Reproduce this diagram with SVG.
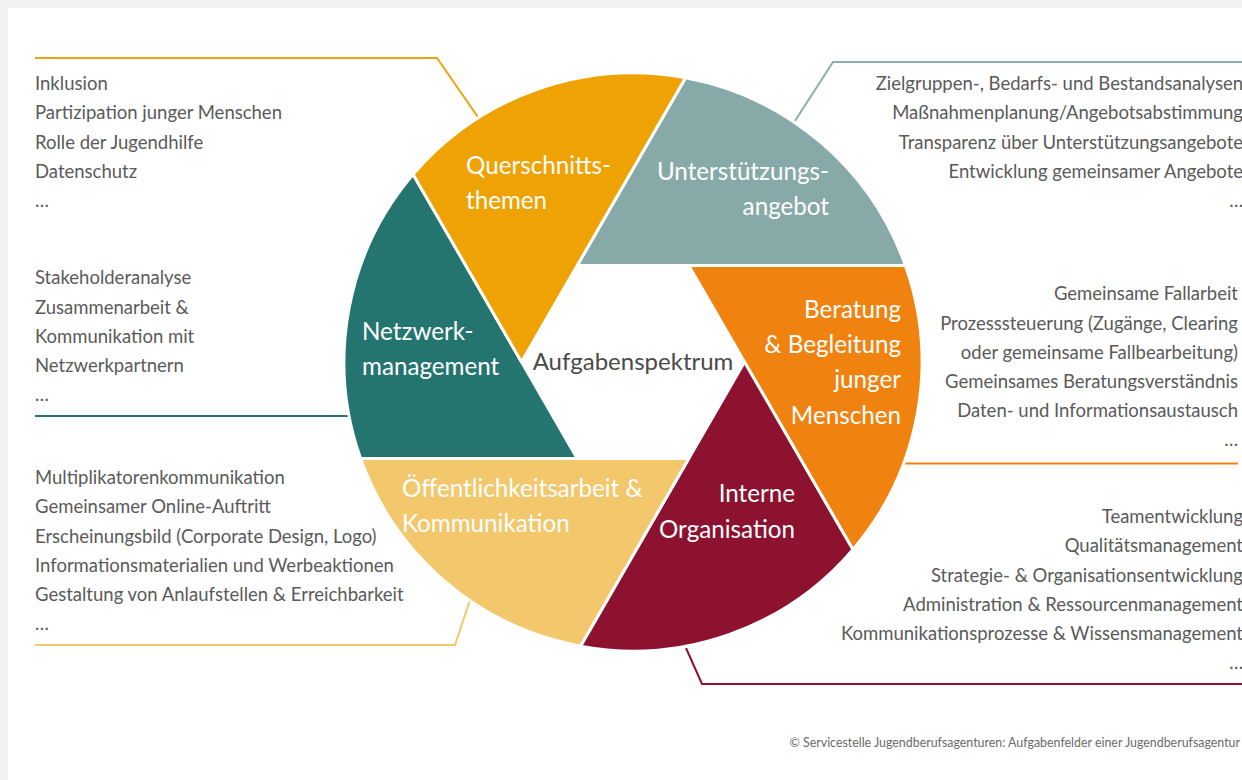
<svg xmlns="http://www.w3.org/2000/svg" width="1242" height="780" viewBox="0 0 1242 780">
<style>
.bg{fill:#f2f2f2}
.card{fill:#ffffff}
.blade{stroke:#ffffff;stroke-width:3;stroke-linejoin:round}
.conn{fill:none;stroke-width:2}
.item{font-family:Lato,"Liberation Sans",sans-serif;font-size:18.5px;fill:#5a5a5a}
.r{text-anchor:end}
.lbl{font-family:Lato,"Liberation Sans",sans-serif;font-size:24.2px;fill:#ffffff}
.center{font-family:Lato,"Liberation Sans",sans-serif;font-size:24px;fill:#4a4a4a;text-anchor:middle}
.copy{font-family:Lato,"Liberation Sans",sans-serif;font-size:12.4px;fill:#6a6a6a;text-anchor:end}
</style>
<rect class="bg" x="0" y="0" width="1242" height="780"/>
<rect class="card" x="8" y="8" width="1234" height="772"/>

<g id="connectors">
  <polyline class="conn" stroke="#EBA40E" points="35,58 437,58 480,120"/>
  <polyline class="conn" stroke="#8AAEAB" points="1242,62 833,62 793,124"/>
  <polyline class="conn" stroke="#247570" points="35,416 352,416"/>
  <polyline class="conn" stroke="#F0820F" points="900,463.5 1238,463.5"/>
  <polyline class="conn" stroke="#F3C76B" points="35,645 455,645 470,600"/>
  <polyline class="conn" stroke="#8C1230" points="686,648 702,684 1242,684"/>
</g>

<g id="node-unterstuetzung">
  <path class="blade" fill="#87AAA8" d="M577.25,265.44 L905.39,265.44 A289,289 0 0 0 685.56,77.83 Z"/>
  <text class="lbl r" x="829" y="180">Unterstützungs-</text>
  <text class="lbl r" x="829" y="215">angebot</text>
</g>
<g id="node-beratung">
  <path class="blade" fill="#F0820F" d="M688.75,265.44 L852.82,549.61 A289,289 0 0 0 905.39,265.44 Z"/>
  <text class="lbl r" x="901" y="318">Beratung</text>
  <text class="lbl r" x="901" y="353">&amp; Begleitung</text>
  <text class="lbl r" x="901" y="388">junger</text>
  <text class="lbl r" x="901" y="424">Menschen</text>
</g>
<g id="node-interne">
  <path class="blade" fill="#8C1230" d="M744.5,362 L580.44,646.17 A289,289 0 0 0 852.82,549.61 Z"/>
  <text class="lbl r" x="795" y="502">Interne</text>
  <text class="lbl r" x="795" y="538">Organisation</text>
</g>
<g id="node-oeffentlichkeit">
  <path class="blade" fill="#F3C76B" d="M688.75,458.56 L360.61,458.56 A289,289 0 0 0 580.44,646.17 Z"/>
  <text class="lbl" x="402" y="497">Öffentlichkeitsarbeit &amp;</text>
  <text class="lbl" x="402" y="532">Kommunikation</text>
</g>
<g id="node-netzwerk">
  <path class="blade" fill="#247570" d="M577.25,458.56 L413.18,174.39 A289,289 0 0 0 360.61,458.56 Z"/>
  <text class="lbl" x="362" y="340">Netzwerk-</text>
  <text class="lbl" x="362" y="375">management</text>
</g>
<g id="node-querschnitt">
  <path class="blade" fill="#EFA203" d="M521.5,362 L685.56,77.83 A289,289 0 0 0 413.18,174.39 Z"/>
  <text class="lbl" x="466" y="174">Querschnitts-</text>
  <text class="lbl" x="466" y="209">themen</text>
</g>
<g id="node-center">
  <text class="center" x="633" y="370">Aufgabenspektrum</text>
</g>

<g id="list-querschnitt">
  <text class="item" x="35" y="90">Inklusion</text>
  <text class="item" x="35" y="119">Partizipation junger Menschen</text>
  <text class="item" x="35" y="148.5">Rolle der Jugendhilfe</text>
  <text class="item" x="35" y="178">Datenschutz</text>
  <text class="item" x="35" y="207">…</text>
</g>
<g id="list-netzwerk">
  <text class="item" x="35" y="284">Stakeholderanalyse</text>
  <text class="item" x="35" y="313.5">Zusammenarbeit &amp;</text>
  <text class="item" x="35" y="343">Kommunikation mit</text>
  <text class="item" x="35" y="372">Netzwerkpartnern</text>
  <text class="item" x="35" y="401">…</text>
</g>
<g id="list-oeffentlichkeit">
  <text class="item" x="35" y="484">Multiplikatorenkommunikation</text>
  <text class="item" x="35" y="513">Gemeinsamer Online-Auftritt</text>
  <text class="item" x="35" y="542.5">Erscheinungsbild (Corporate Design, Logo)</text>
  <text class="item" x="35" y="572">Informationsmaterialien und Werbeaktionen</text>
  <text class="item" x="35" y="601">Gestaltung von Anlaufstellen &amp; Erreichbarkeit</text>
  <text class="item" x="35" y="630">…</text>
</g>
<g id="list-unterstuetzung">
  <text class="item r" x="1243" y="90">Zielgruppen-, Bedarfs- und Bestandsanalysen</text>
  <text class="item r" x="1243" y="119">Maßnahmenplanung/Angebotsabstimmung</text>
  <text class="item r" x="1243" y="148.5">Transparenz über Unterstützungsangebote</text>
  <text class="item r" x="1243" y="178">Entwicklung gemeinsamer Angebote</text>
  <text class="item r" x="1243" y="207">…</text>
</g>
<g id="list-beratung">
  <text class="item r" x="1238" y="300">Gemeinsame Fallarbeit</text>
  <text class="item r" x="1238" y="329.5">Prozesssteuerung (Zugänge, Clearing</text>
  <text class="item r" x="1238" y="359">oder gemeinsame Fallbearbeitung)</text>
  <text class="item r" x="1238" y="388">Gemeinsames Beratungsverständnis</text>
  <text class="item r" x="1238" y="417">Daten- und Informationsaustausch</text>
  <text class="item r" x="1238" y="446">…</text>
</g>
<g id="list-interne">
  <text class="item r" x="1243" y="523">Teamentwicklung</text>
  <text class="item r" x="1243" y="552">Qualitätsmanagement</text>
  <text class="item r" x="1243" y="581.5">Strategie- &amp; Organisationsentwicklung</text>
  <text class="item r" x="1243" y="611">Administration &amp; Ressourcenmanagement</text>
  <text class="item r" x="1243" y="640">Kommunikationsprozesse &amp; Wissensmanagement</text>
  <text class="item r" x="1243" y="669">…</text>
</g>

<text class="copy" x="1240" y="747">© Servicestelle Jugendberufsagenturen: Aufgabenfelder einer Jugendberufsagentur</text>
</svg>
